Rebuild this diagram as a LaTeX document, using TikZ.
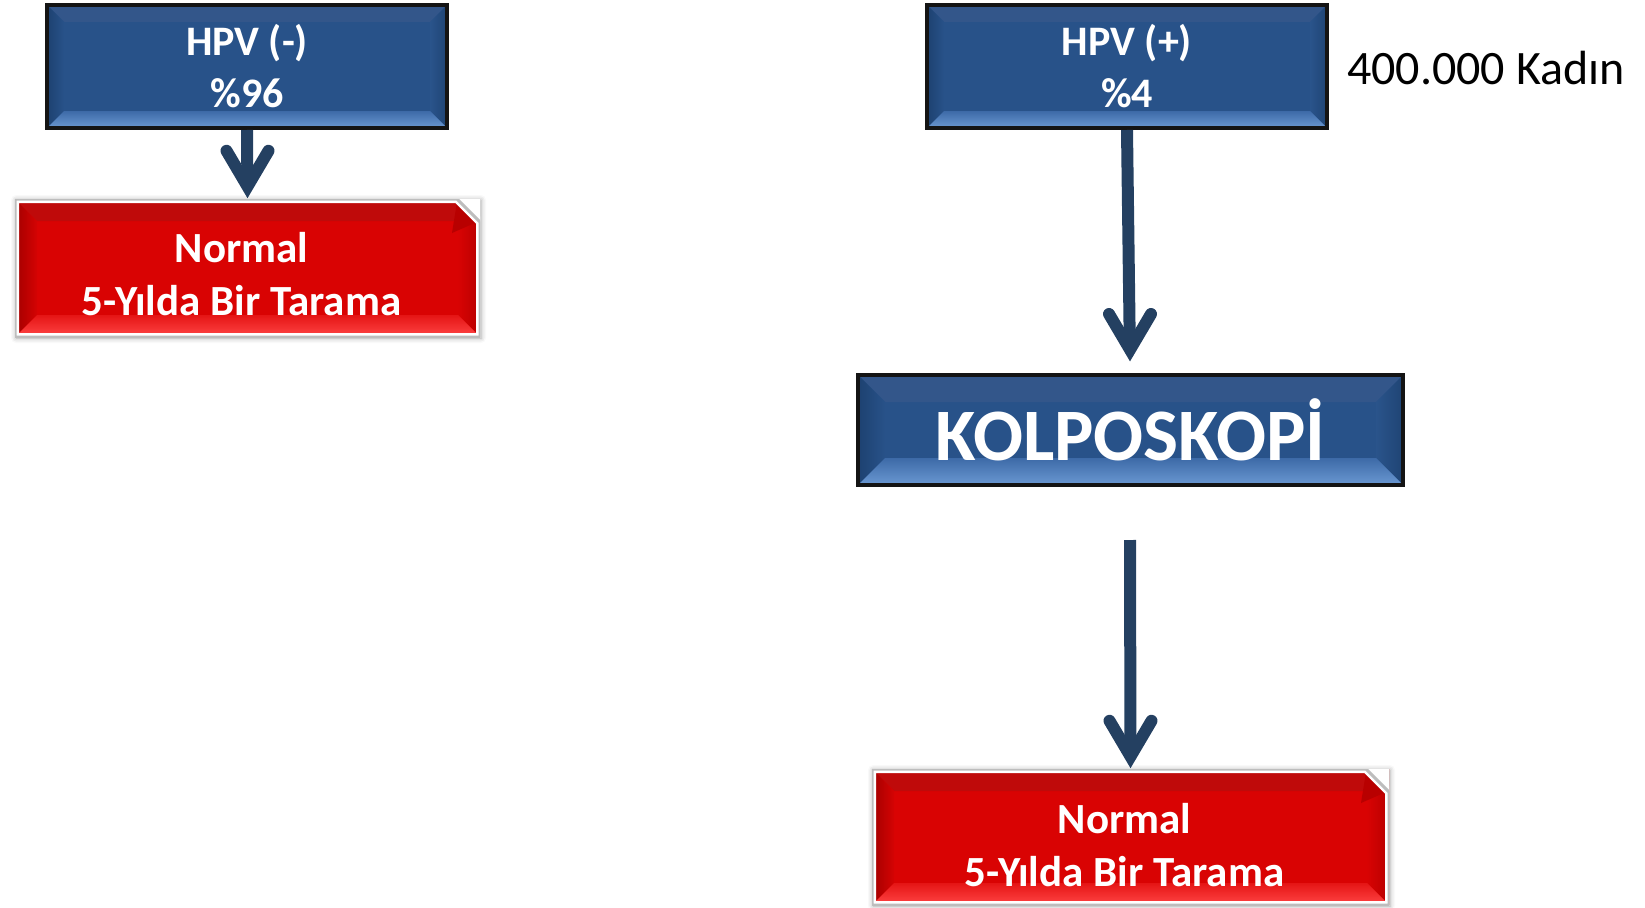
\documentclass[tikz,border=0pt]{standalone}
\usepackage{fontspec}
\setmainfont{Carlito}
\usetikzlibrary{calc,shadows.blur}
\definecolor{bmain}{HTML}{285289}
\definecolor{btop}{HTML}{33568A}
\definecolor{bleftA}{HTML}{1D4170}
\definecolor{bleftB}{HTML}{285289}
\definecolor{brightA}{HTML}{1F4474}
\definecolor{brightB}{HTML}{2A548B}
\definecolor{bbotA}{HTML}{6A98D2}
\definecolor{bbotB}{HTML}{3D6AA7}
\definecolor{rmain}{HTML}{D90303}
\definecolor{rtop}{HTML}{BF0A0A}
\definecolor{rleftA}{HTML}{A30000}
\definecolor{rleftB}{HTML}{D40303}
\definecolor{rrightA}{HTML}{B80000}
\definecolor{rrightB}{HTML}{D80303}
\definecolor{rbotA}{HTML}{FF4545}
\definecolor{rbotB}{HTML}{E51515}
\definecolor{rfold}{HTML}{B80000}
\definecolor{framegray}{HTML}{BDBDBD}
\definecolor{arrowc}{HTML}{244061}
\newcommand\boxbevel[2]{%
  \fill[#2top] let \p1=(path picture bounding box.south west),\p2=(path picture bounding box.north east) in
    (\x1,\y2)--(\x2,\y2)--(\x2-#1,\y2-#1)--(\x1+#1,\y2-#1)--cycle;
  \shade[left color=#2leftA,right color=#2leftB] let \p1=(path picture bounding box.south west),\p2=(path picture bounding box.north east) in
    (\x1,\y1)--(\x1+#1,\y1+#1)--(\x1+#1,\y2-#1)--(\x1,\y2)--cycle;
  \shade[left color=#2rightB,right color=#2rightA] let \p1=(path picture bounding box.south west),\p2=(path picture bounding box.north east) in
    (\x2,\y1)--(\x2,\y2)--(\x2-#1,\y2-#1)--(\x2-#1,\y1+#1)--cycle;
  \shade[bottom color=#2botA,top color=#2botB] let \p1=(path picture bounding box.south west),\p2=(path picture bounding box.north east) in
    (\x1,\y1)--(\x2,\y1)--(\x2-#1,\y1+#1)--(\x1+#1,\y1+#1)--cycle;
}
\newcommand\redcorner{%
  \fill[rfold] let \p1=(path picture bounding box.south west),\p2=(path picture bounding box.north east) in
    (\x2-23pt,\y2-3pt)--(\x2-3pt,\y2-23pt)--(\x2-28pt,\y2-34pt)--cycle;
  \fill[white] let \p1=(path picture bounding box.south west),\p2=(path picture bounding box.north east) in
    (\x2-23pt,\y2)--(\x2+1pt,\y2)--(\x2+1pt,\y2-23pt)--cycle;
  \draw[white,line width=8pt,line join=miter] let \p1=(path picture bounding box.south west),\p2=(path picture bounding box.north east) in
    (\x1,\y1)--(\x1,\y2)--(\x2-23pt,\y2)--(\x2,\y2-23pt)--(\x2,\y1)--cycle;
  \draw[framegray,line width=3pt,line join=miter] let \p1=(path picture bounding box.south west),\p2=(path picture bounding box.north east) in
    (\x1,\y1)--(\x1,\y2)--(\x2-23pt,\y2)--(\x2,\y2-23pt)--(\x2,\y1)--cycle;
}
\tikzset{
  bluebox/.style={rectangle,draw=black!92,line width=4pt,fill=bmain,text=white,
    font=\bfseries\fontsize{42}{52}\selectfont,align=center,inner sep=0pt},
  hpvbox/.style={bluebox,minimum width=400pt,minimum height=123pt,path picture={\boxbevel{17pt}{b}}},
  kolpbox/.style={bluebox,minimum width=545pt,minimum height=110pt,
    font=\bfseries\fontsize{74}{88}\selectfont,path picture={\boxbevel{27pt}{b}}},
  redbox/.style={rectangle,fill=rmain,text=white,font=\bfseries\fontsize{43}{53}\selectfont,
    align=center,inner sep=0pt,
    blur shadow={shadow xshift=1pt,shadow yshift=-1pt,shadow blur radius=5pt,shadow opacity=35},
    path picture={\boxbevel{22pt}{r}\redcorner}},
  shaft/.style={draw=arrowc,line width=12pt,shorten >=14pt},
  chevron/.style={draw=arrowc,line width=12pt,line cap=round,line join=miter,miter limit=10},
  plain/.style={font=\fontsize{48}{56}\selectfont,text=black,inner sep=0pt}
}
\begin{document}
\begin{tikzpicture}[x=1pt,y=-1pt]
\useasboundingbox (0,0) rectangle (1645,907);
\node[hpvbox] (hpvneg) at (247,66.5) {HPV (-)\\\%96};
\node[hpvbox] (hpvpos) at (1127,66.5) {HPV (+)\\\%4};
\node[kolpbox] (kolp) at (1130.5,430) {KOLPOSKOPİ};
\node[redbox,minimum width=465pt,minimum height=138pt] (normal1) at (247.5,268)
  {\rule{0pt}{43pt}Normal\hspace*{12pt}\\5-Yılda Bir Tarama\hspace*{12pt}};
\node[redbox,minimum width=517pt,minimum height=136pt] (normal2) at (1130.5,837)
  {\rule{0pt}{47pt}Normal\hspace*{12pt}\\5-Yılda Bir Tarama\hspace*{12pt}};
\node[plain,anchor=base west] (kadin) at (1347,84) {400.000 Kadın};
\coordinate (t2) at (1130,362);
\coordinate (s3) at (1130,540);
% arrow 1
\draw[shaft] (hpvneg.south) -- (normal1.north);
\draw[chevron] ($(normal1.north)+(-21,-48)$) -- ($(normal1.north)+(0,-12.4)$) -- ($(normal1.north)+(21,-48)$);
% arrow 2
\draw[shaft] (hpvpos.south) -- (t2);
\draw[chevron] ($(t2)+(-21,-48)$) -- ($(t2)+(0,-12.4)$) -- ($(t2)+(21,-48)$);
% arrow 3
\draw[shaft] (s3) -- (normal2.north);
\draw[chevron] ($(normal2.north)+(-21,-48)$) -- ($(normal2.north)+(0,-12.4)$) -- ($(normal2.north)+(21,-48)$);
\end{tikzpicture}
\end{document}
